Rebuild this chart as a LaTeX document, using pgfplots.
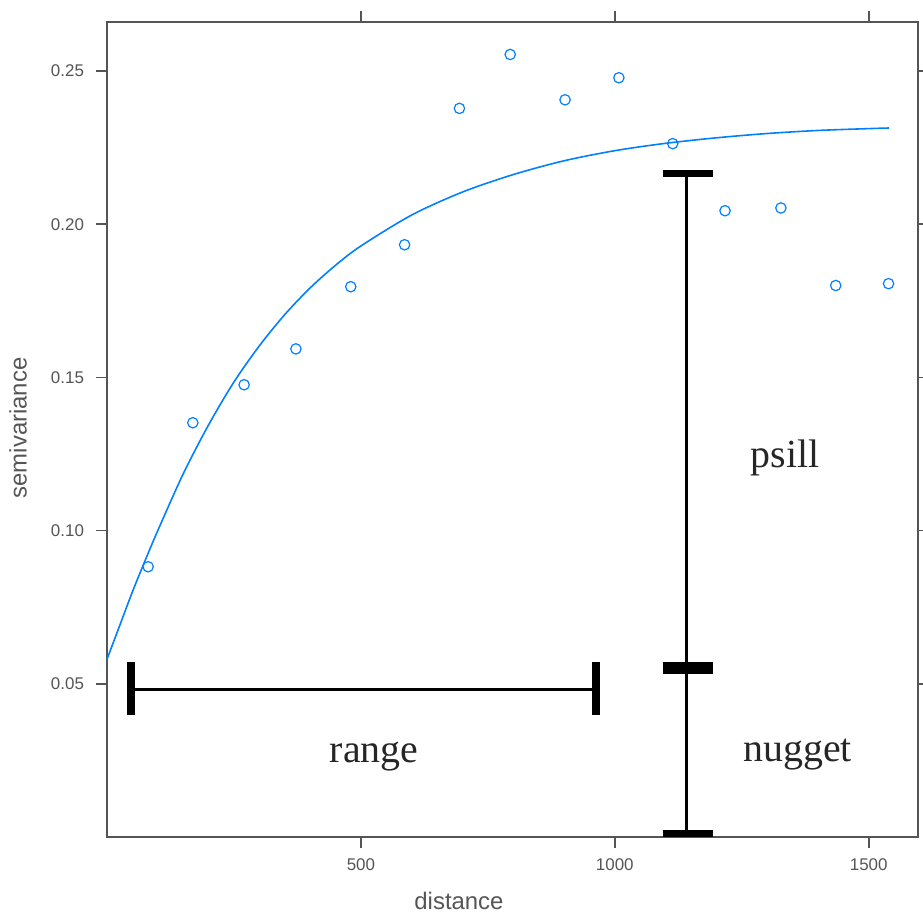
\documentclass[border=0pt]{standalone}
\usepackage{pgfplots}
\pgfplotsset{compat=1.18}
\usepackage{fontspec}
\setmainfont{Liberation Serif}
\setsansfont{Liberation Sans}
\definecolor{lat}{HTML}{0080FF}
\definecolor{axgray}{HTML}{555555}

\begin{document}
\begin{tikzpicture}
\begin{axis}[
  scale only axis,
  width=405.5bp, height=407.5bp,
  xmin=0, xmax=1597, ymin=0, ymax=0.266,
  clip=false,
  axis line style={axgray, line width=0.6pt},
  xtick={500,1000,1500}, xticklabels={500,1000,1500},
  ytick={0.05,0.10,0.15,0.20,0.25},
  yticklabels={0.05,0.10,0.15,0.20,0.25},
  tick pos=both, ticklabel pos=left,
  tick align=outside, major tick length=5.5bp,
  tick style={axgray, line width=0.8pt},
  /pgf/number format/assume math mode=true,
  ticklabel style={font=\sffamily\fontsize{8.5}{9}\selectfont, text=axgray},
  xticklabel shift=2bp, yticklabel shift=2.5bp,
]

% fitted model
\addplot[lat, line width=0.8pt, smooth] coordinates {
  (0,0.0580) (25,0.0690) (50,0.0800) (75,0.0902) (100,0.1000)
  (150,0.1185) (200,0.1345) (250,0.1485) (300,0.1603) (350,0.1705)
  (400,0.1792) (450,0.1866) (500,0.1929) (600,0.2030) (700,0.2105)
  (800,0.2162) (900,0.2207) (1000,0.2240) (1100,0.2264) (1200,0.2282)
  (1300,0.2296) (1400,0.2306) (1500,0.2312) (1540,0.2314)
};

% sample variogram
\addplot[only marks, mark=o, mark size=2.6bp, lat,
  mark options={line width=0.6pt}] coordinates {
  (81,0.0882) (169,0.1352) (270,0.1476) (372,0.1593) (480,0.1796)
  (586,0.1933) (694,0.2378) (794,0.2554) (902,0.2406) (1008,0.2478)
  (1114,0.2263) (1217,0.2044) (1327,0.2053) (1435,0.1800) (1539,0.1806)
};

% range bar
\addplot[black, line width=1.6bp] coordinates {(47,0.0481) (963,0.0481)};
\addplot[black, line width=4bp] coordinates {(47,0.0398) (47,0.0572)};
\addplot[black, line width=4bp] coordinates {(963,0.0398) (963,0.0572)};

% psill / nugget bar
\addplot[black, line width=1.5bp] coordinates {(1142,0.001) (1142,0.2165)};
\addplot[black, line width=3.5bp] coordinates {(1094,0.2165) (1193,0.2165)};
\addplot[black, line width=6bp] coordinates {(1094,0.0551) (1193,0.0551)};
\addplot[black, line width=3.5bp] coordinates {(1094,0.0010) (1193,0.0010)};

\node[anchor=base, font=\fontsize{20}{20}\selectfont, text=black!85]
  at (axis cs:526,0.0242) {range};
\node[anchor=base, font=\fontsize{20}{20}\selectfont, text=black!85]
  at (axis cs:1335,0.1205) {psill};
\node[anchor=base, font=\fontsize{20}{20}\selectfont, text=black!85]
  at (axis cs:1360,0.0246) {nugget};

\node[yshift=-32bp, font=\sffamily\fontsize{12}{12}\selectfont, text=axgray]
  at (rel axis cs:0.434,0) {distance};
\node[xshift=-44.5bp, rotate=90, font=\sffamily\fontsize{12}{12}\selectfont, text=axgray]
  at (rel axis cs:0,0.502) {semivariance};

\coordinate (bl) at (rel axis cs:0,0);
\coordinate (tr) at (rel axis cs:1,1);
\end{axis}
\pgfresetboundingbox
\path ([xshift=-53.5bp,yshift=-39.5bp]bl) rectangle ([xshift=2.5bp,yshift=11bp]tr);
\end{tikzpicture}
\end{document}
